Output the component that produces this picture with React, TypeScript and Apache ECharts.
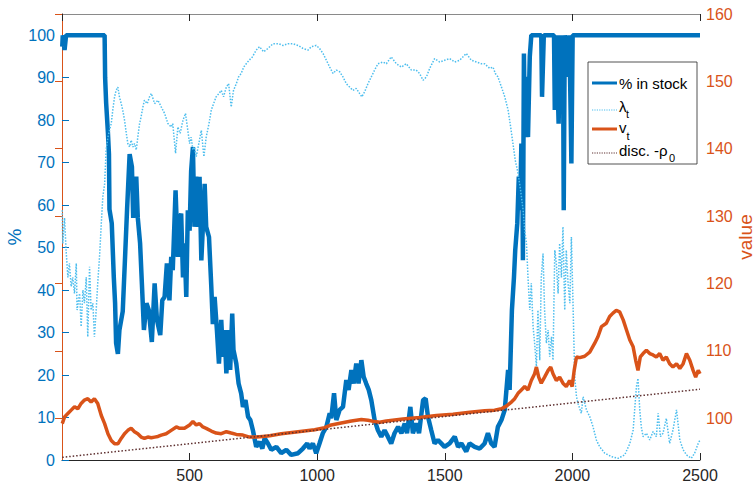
import React, { useEffect, useRef } from "react";
import * as echarts from "echarts";

// % in stock (left axis) [t, %]
const pctInStock: [number, number][] = [
  [1,97.3],[3,100],[10,96.5],[16,100],[167,100],[169,90],[173,84],[180,77],[184,72],[186,59],[195,55.7],[203,43],[208,37],[212,27.5],[219,25],[225,30.6],[238,35],[248,49],[255,59],[265,72],[274,69],[279,57],[291,66.7],[297,57],[306,51],[313,41.6],[321,30.6],[331,36.9],[340,35.3],[352,27.8],[363,41.6],[372,33],[385,29.4],[393,37.6],[402,38.4],[411,46.3],[421,37.6],[428,47.8],[434,44.7],[445,63.5],[454,47.8],[461,57],[467,58],[474,43],[480,51],[487,38.4],[493,58.8],[500,54],[506,68],[513,73.7],[519,54.9],[526,66.7],[533,54.9],[539,66.7],[546,47],[552,54.9],[559,65],[565,54.9],[576,52.5],[585,40.8],[591,32],[598,38.4],[607,30.6],[615,22.7],[624,33],[631,24.3],[637,30.6],[644,20.4],[653,30.6],[659,21.2],[667,34.5],[672,25.9],[683,22.7],[692,18],[702,15.7],[709,12.5],[719,14.1],[729,10.2],[738,9.4],[748,7],[761,3.1],[774,4.3],[785,2.7],[794,5.1],[807,3.9],[820,2.4],[840,3.1],[859,1.6],[879,2.4],[898,1.2],[925,1.6],[944,2.7],[961,3.9],[970,2.7],[983,3.9],[996,1.6],[1009,3.9],[1022,6.3],[1036,7.8],[1049,11],[1055,9.8],[1066,15.7],[1075,9.4],[1088,11.8],[1101,12.5],[1114,18.8],[1123,16.5],[1134,21.2],[1143,18],[1153,22.7],[1162,18],[1173,23.5],[1182,19.6],[1192,18],[1202,16.5],[1212,14.1],[1225,9.4],[1238,7],[1251,5.5],[1264,7],[1277,5.5],[1290,3.9],[1303,6.3],[1317,7.8],[1330,6.3],[1343,8.6],[1352,6.3],[1365,12.5],[1375,6.3],[1388,8.6],[1399,6.3],[1415,14.1],[1425,14.5],[1434,10.2],[1447,7],[1460,3.9],[1473,4.7],[1486,3.9],[1499,3.1],[1519,3.9],[1539,5.5],[1552,3.1],[1565,3.9],[1584,2],[1597,3.9],[1617,3.1],[1637,2.7],[1656,3.9],[1669,6.3],[1682,3.9],[1695,3.1],[1708,7.8],[1722,9.4],[1735,11.8],[1748,21.2],[1754,16.5],[1763,35.3],[1771,43],[1776,49.4],[1784,55.7],[1790,66.7],[1795,58.8],[1800,74.5],[1804,68.2],[1806,47],[1810,95.7],[1813,80],[1820,90.2],[1826,76],[1833,95],[1839,100],[1878,100],[1881,85.5],[1888,100],[1928,100],[1931,82.4],[1937,100],[1946,79.2],[1952,100],[1959,90.2],[1963,100],[1966,58.8],[1970,100],[1983,90.2],[1988,100],[1993,82.4],[1996,69.8],[2001,100],[2500,100]
];

// lambda_t (left axis) [t, %]
const lambdaT: [number, number][] = [
  [1,58.8],[3,51],[10,57],[16,49.4],[23,43],[29,46.3],[36,40.8],[42,43],[49,39.2],[56,46.3],[59,35.3],[69,39.2],[75,31.4],[82,40],[88,36.9],[95,43],[101,29],[108,45.5],[114,35.3],[121,36.9],[127,29],[134,35.3],[140,41.6],[147,47.8],[154,55.7],[160,62],[167,65],[173,73],[180,76],[186,77.6],[193,79.2],[199,82.4],[206,85.5],[212,87],[219,87.8],[225,85.5],[232,83.9],[238,82.4],[245,80],[252,76.9],[258,74.5],[265,73.7],[271,75.3],[278,73.7],[284,74.5],[291,73],[297,76],[304,79.2],[310,80.8],[317,83.1],[323,84.7],[334,83.9],[343,85.5],[350,86.3],[363,83.9],[376,84.7],[389,83.1],[402,81.6],[415,79.2],[428,78.4],[434,79.2],[445,72.2],[454,78.4],[463,76.9],[474,80],[484,81.6],[493,77.6],[500,74.5],[506,76],[513,73],[519,73.7],[526,71.4],[536,74.5],[546,77.6],[556,71.4],[565,76],[576,79.2],[585,82.4],[594,83.9],[604,85.5],[615,86.3],[624,87],[633,85.5],[644,87.8],[653,88.6],[663,83.1],[672,87],[683,88.6],[692,90.2],[702,91],[712,92.5],[722,93.3],[733,94.1],[746,94.9],[761,96.5],[774,97.3],[790,96.1],[807,96.9],[827,98],[849,98],[866,97.6],[885,98],[905,98],[925,97.6],[944,96.9],[964,96.5],[977,97.3],[996,97.6],[1009,96.9],[1023,95.7],[1036,94.1],[1049,92.5],[1062,91],[1075,91.8],[1088,91.4],[1101,90.2],[1114,88.6],[1127,87.8],[1140,87],[1153,87.5],[1166,86.3],[1175,85.5],[1186,86.7],[1199,88.6],[1212,90.2],[1225,91.8],[1238,93.3],[1258,93.7],[1271,93.3],[1290,94.9],[1310,93.3],[1330,92.5],[1349,93.3],[1369,91.8],[1388,91.8],[1401,91],[1415,89.4],[1428,90.2],[1441,92.2],[1460,94.5],[1480,93.7],[1499,94.1],[1519,94.5],[1539,93.7],[1558,94.1],[1584,95.7],[1604,94.1],[1624,93.7],[1643,93.3],[1656,93.3],[1676,92.2],[1689,92.5],[1698,91],[1708,90.2],[1722,87.8],[1735,85.5],[1748,82.4],[1758,78.4],[1767,74.5],[1776,70.6],[1787,67.5],[1797,63.5],[1807,58.8],[1813,54.1],[1820,51],[1826,43],[1833,35.3],[1839,41.6],[1846,31.4],[1852,27.5],[1859,22],[1865,35.3],[1872,23.5],[1878,43],[1885,48.6],[1891,35.3],[1898,27.5],[1905,30.6],[1911,24.3],[1918,29],[1924,23.5],[1931,49.4],[1937,46.3],[1944,39.2],[1950,51],[1957,43],[1963,54.9],[1970,35.3],[1976,49.4],[1983,41.6],[1990,36.9],[1996,52.5],[2003,35.3],[2009,19.6],[2016,14.9],[2022,13.3],[2035,11],[2042,14.9],[2055,11.8],[2068,10.2],[2081,7.8],[2094,4.7],[2107,3.1],[2127,1.6],[2153,0.8],[2179,0.4],[2205,1.2],[2225,3.9],[2238,7],[2244,11.8],[2251,17.3],[2257,19.2],[2264,11.8],[2270,7.8],[2277,5.5],[2290,6.3],[2303,4.7],[2316,6.7],[2329,5.5],[2336,11],[2345,5.5],[2355,6.3],[2368,9.8],[2381,3.9],[2394,7],[2408,11.8],[2421,4.7],[2434,2.4],[2447,1.2],[2466,0.4],[2479,1.6],[2493,3.9],[2500,4.7]
];

// v_t (right axis) [t, value]
const vT: [number, number][] = [
  [1,99.2],[10,100.2],[23,100.7],[36,101.2],[49,101.7],[62,101.4],[75,102.2],[88,102.7],[101,102.9],[114,102.4],[127,102.9],[140,102.2],[154,100.4],[167,99.2],[180,97.7],[193,96.7],[206,96.2],[219,96.2],[232,97],[245,97.7],[258,98.2],[271,98.5],[284,98],[297,97.7],[310,97.2],[323,97],[336,97.2],[350,97.1],[363,97.2],[376,97.3],[389,97.5],[408,97.7],[428,98.2],[448,98.7],[461,98.5],[480,98.5],[500,99],[513,99.5],[526,99],[539,99.2],[552,98.7],[565,98.5],[585,98.1],[604,97.8],[624,97.7],[644,98],[663,97.8],[683,97.6],[709,97.5],[735,97.2],[761,97.2],[787,97.3],[814,97.4],[859,97.7],[925,98],[990,98.3],[1029,98.6],[1055,99],[1094,99.3],[1134,99.6],[1173,99.8],[1199,99.7],[1225,99.5],[1245,99.4],[1271,99.6],[1336,99.9],[1401,100.1],[1467,100.4],[1532,100.6],[1598,100.9],[1656,101.1],[1695,101.2],[1722,101.4],[1741,101.8],[1761,102.4],[1774,102.9],[1787,103.7],[1800,104.2],[1813,104.7],[1826,104.2],[1839,105.6],[1852,106.6],[1859,107.6],[1868,106.1],[1878,105.2],[1891,106.1],[1905,107.1],[1915,107.6],[1924,106.6],[1937,105.6],[1950,106.1],[1963,105.2],[1976,104.7],[1989,105.6],[1999,104.7],[2007,107.1],[2016,109.1],[2029,109],[2048,109.2],[2068,109.8],[2087,111.1],[2100,112.1],[2114,113.6],[2133,114.1],[2146,115.1],[2159,115.6],[2172,116],[2185,115.8],[2199,114.6],[2212,113.1],[2225,111.6],[2238,110.6],[2248,108.6],[2257,107.1],[2266,109.1],[2277,109.6],[2290,110.1],[2303,109.6],[2316,109.4],[2329,109.1],[2342,109.6],[2355,108.6],[2368,109.1],[2381,108.1],[2394,107.6],[2408,108.1],[2421,107.4],[2434,108.1],[2447,109.6],[2460,108.6],[2473,107.1],[2483,106.1],[2493,107.1],[2500,106.6]
];

// disc. -rho_0 (right axis) [t, value]
const discRho0: [number, number][] = [[1, 94.2], [2500, 104.3]];

const xTicks = { min: 0, max: 2500, interval: 500 };
const leftRange = { min: 0, max: 105, interval: 10 };
const rightRange = { min: 93.8, max: 160 };

const BLUE = "#0072BD";
const LBLUE = "#4DBEEE";
const ORANGE = "#D95319";
const DISC = "#5E3030";
const DARK = "#262626";
const FONT = "'Liberation Sans', Arial, Helvetica, sans-serif";

export default function App() {
  const ref = useRef<HTMLDivElement>(null);
  useEffect(() => {
    if (!ref.current) return;
    const chart = echarts.init(ref.current, undefined, { renderer: "svg" });
    const lx = 592, lx2 = 617, tx = 619;
    const plain = (v: number) => String(v);
    const option: any = {
      animation: false,
      backgroundColor: "#ffffff",
      textStyle: { fontFamily: FONT },
      grid: { left: 62, right: 56, top: 14, bottom: 23, containLabel: false, outerBoundsMode: "none" },
      xAxis: [
        {
          type: "value", position: "bottom", ...xTicks,
          axisLine: { lineStyle: { color: DARK, width: 1 } },
          axisTick: { inside: true, length: 7, lineStyle: { color: DARK } },
          axisLabel: { color: DARK, fontSize: 16, margin: 7, showMinLabel: false, fontFamily: FONT, formatter: plain },
          splitLine: { show: false },
        },
        {
          type: "value", position: "top", ...xTicks,
          axisLine: { lineStyle: { color: "#8a8a8a", width: 1 } },
          axisTick: { inside: true, length: 7, lineStyle: { color: DARK } },
          axisLabel: { show: false },
          splitLine: { show: false },
        },
      ],
      yAxis: [
        {
          type: "value", position: "left", ...leftRange,
          name: "%", nameLocation: "middle", nameGap: 38, nameMoveOverlap: false,
          nameTextStyle: { color: BLUE, fontSize: 19, fontFamily: FONT },
          axisLine: { show: true, lineStyle: { color: BLUE, width: 1 } },
          axisTick: { show: true, inside: true, length: 7, lineStyle: { color: BLUE } },
          axisLabel: { color: BLUE, fontSize: 16, margin: 7, showMaxLabel: false, fontFamily: FONT, formatter: plain },
          splitLine: { show: false },
        },
        {
          type: "value", position: "right", ...rightRange, splitNumber: 6,
          name: "value", nameLocation: "middle", nameGap: 36, nameMoveOverlap: false,
          nameTextStyle: { color: ORANGE, fontSize: 19, fontFamily: FONT },
          axisLine: { show: true, lineStyle: { color: ORANGE, width: 1 } },
          axisTick: { show: true, inside: true, length: 7, lineStyle: { color: ORANGE } },
          axisLabel: { color: ORANGE, fontSize: 16, margin: 6, showMinLabel: false, fontFamily: FONT, formatter: plain },
          splitLine: { show: false },
        },
      ],
      series: [
        {
          name: "% in stock", type: "line", data: pctInStock, xAxisIndex: 0, yAxisIndex: 0,
          symbol: "none", lineStyle: { color: BLUE, width: 4.5 }, z: 2,
        },
        {
          name: "lambda", type: "line", data: lambdaT, xAxisIndex: 0, yAxisIndex: 0,
          symbol: "none", lineStyle: { color: LBLUE, width: 1.5, type: [1.5, 1.5] }, z: 3,
        },
        {
          name: "v_t", type: "line", data: vT, xAxisIndex: 0, yAxisIndex: 1,
          symbol: "none", lineStyle: { color: ORANGE, width: 3.5 }, z: 4,
        },
        {
          name: "disc", type: "line", data: discRho0, xAxisIndex: 0, yAxisIndex: 1,
          symbol: "none", lineStyle: { color: DISC, width: 1.5, type: [1.5, 2] }, z: 5,
        },
      ],
      graphic: [
        {
          type: "rect", z: 100,
          shape: { x: 588, y: 62, width: 109, height: 102 },
          style: { fill: "#ffffff", stroke: DARK, lineWidth: 0.8 },
        },
        { type: "line", z: 101, shape: { x1: lx, y1: 83, x2: lx2, y2: 83 }, style: { stroke: BLUE, lineWidth: 3 } },
        { type: "line", z: 101, shape: { x1: lx, y1: 110, x2: lx2, y2: 110 }, style: { stroke: LBLUE, lineWidth: 1.2, lineDash: [1.2, 1.2] } },
        { type: "line", z: 101, shape: { x1: lx, y1: 129, x2: lx2, y2: 129 }, style: { stroke: ORANGE, lineWidth: 3 } },
        { type: "line", z: 101, shape: { x1: lx, y1: 153, x2: lx2, y2: 153 }, style: { stroke: DISC, lineWidth: 1.2, lineDash: [1.2, 1.2] } },
        { type: "text", z: 101, x: tx, y: 83, style: { text: "% in stock", fill: "#000", font: `15px ${FONT}`, verticalAlign: "middle" } },
        { type: "text", z: 101, x: tx, y: 106, style: { text: "λ", fill: "#000", font: `15px ${FONT}`, verticalAlign: "middle" } },
        { type: "text", z: 101, x: tx + 7, y: 114, style: { text: "t", fill: "#000", font: `11px ${FONT}`, verticalAlign: "middle" } },
        { type: "text", z: 101, x: tx, y: 127, style: { text: "v", fill: "#000", font: `15px ${FONT}`, verticalAlign: "middle" } },
        { type: "text", z: 101, x: tx + 7.5, y: 135.5, style: { text: "t", fill: "#000", font: `11px ${FONT}`, verticalAlign: "middle" } },
        { type: "text", z: 101, x: tx, y: 150, style: { text: "disc. -ρ", fill: "#000", font: `15px ${FONT}`, verticalAlign: "middle" } },
        { type: "text", z: 101, x: tx + 50, y: 158, style: { text: "0", fill: "#000", font: `11px ${FONT}`, verticalAlign: "middle" } },
      ],
    };
    chart.setOption(option);
    return () => chart.dispose();
  }, []);
  return (
    <div
      ref={ref}
      style={{ position: "fixed", left: 0, top: 0, width: 756, height: 483, background: "#fff" }}
    />
  );
}
